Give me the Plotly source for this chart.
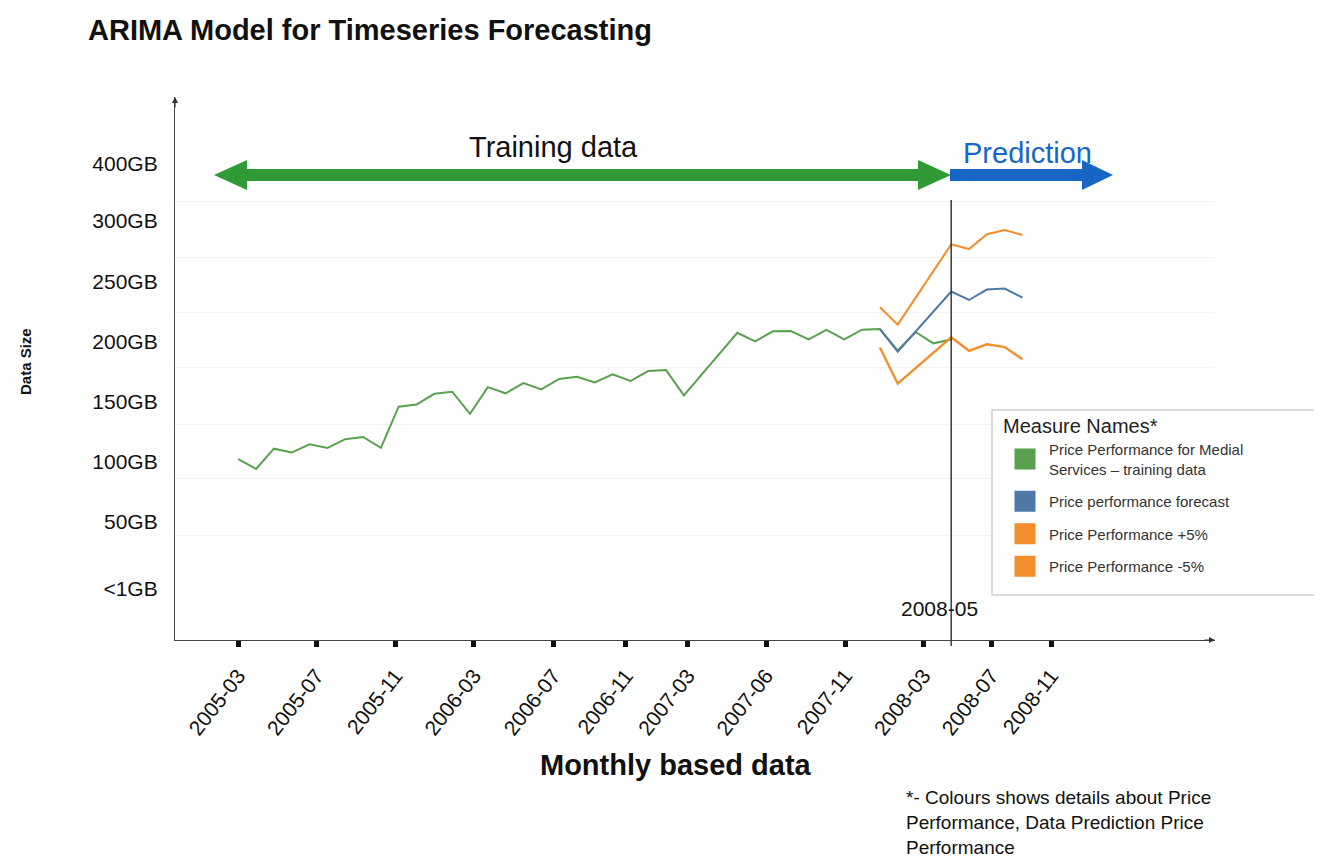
import plotly.graph_objects as go

# ---------------- data ----------------
train_idx = list(range(0, 26)) + list(range(28, 41))
train_vals = [102.3, 94.0, 110.9, 107.7, 114.6, 111.5, 118.8, 120.6, 111.6, 145.8,
              147.6, 156.5, 158.2, 139.8, 162.0, 156.9, 165.4, 160.2, 168.8, 170.7,
              165.9, 172.7, 167.1, 175.4, 176.2, 155.2,
              207.2, 200.1, 208.4, 208.6, 201.7, 209.5, 201.7, 209.7, 210.3, 192.4,
              207.8, 198.4, 201.5]

fc_idx = [36, 37, 40, 41, 42, 43, 44]
fc_vals = [210.3, 191.4, 241.4, 234.4, 243.1, 243.9, 236.3]
up_vals = [228.3, 213.9, 280.6, 276.7, 289.0, 292.5, 288.4]
low_vals = [195.0, 164.9, 203.4, 192.2, 197.6, 195.3, 185.1]

x_tick_labels = ["2005-03", "2005-07", "2005-11", "2006-03", "2006-07", "2006-11",
                 "2007-03", "2007-06", "2007-11", "2008-03", "2008-07", "2008-11"]
x_tick_pos = [0.0, 4.39, 8.82, 13.22, 17.67, 21.75, 25.22, 29.61, 34.05, 38.44, 42.24, 45.61]

y_tick_labels = ["<1GB", "50GB", "100GB", "150GB", "200GB", "250GB", "300GB", "400GB"]
y_tick_pos = [-5, 50, 100, 150, 200, 250, 300, 348]

series_names = ["Price Performance for Medial<br>Services – training data",
                "Price performance forecast",
                "Price Performance +5%",
                "Price Performance -5%"]
GREEN, BLUE, ORANGE = "#59a14f", "#4e79a7", "#f28e2b"
series_colors = [GREEN, BLUE, ORANGE, ORANGE]

note_lines = ["*- Colours shows details about Price",
              "Performance, Data Prediction Price",
              "Performance"]

# ---------------- geometry (page has an 8px body margin) ----------------
OFF = 8
W, H = 1322 - OFF, 859 - OFF
L, T = 175 - OFF, 97 - OFF
PW, PH = 1040, 543
R, B = W - L - PW, H - T - PH


def pxx(p):
    """reference pixel x -> paper x"""
    return (p - OFF - L) / PW


def pxy(p):
    """reference pixel y -> paper y"""
    return (T + PH - (p - OFF)) / PH


FONT = "Liberation Sans, Arial, Helvetica, sans-serif"

fig = go.Figure()

fig.add_trace(go.Scatter(x=train_idx, y=train_vals, mode="lines", name=series_names[0],
                         line=dict(color=GREEN, width=2), showlegend=False))
fig.add_trace(go.Scatter(x=fc_idx, y=up_vals, mode="lines", name=series_names[2],
                         line=dict(color=ORANGE, width=2), showlegend=False))
fig.add_trace(go.Scatter(x=fc_idx, y=low_vals, mode="lines", name=series_names[3],
                         line=dict(color=ORANGE, width=2.4), showlegend=False))
fig.add_trace(go.Scatter(x=fc_idx, y=fc_vals, mode="lines", name=series_names[1],
                         line=dict(color=BLUE, width=2), showlegend=False))

# legend entries with square swatches
for i, (nm, col) in enumerate(zip(series_names, series_colors)):
    fig.add_trace(go.Scatter(x=[None], y=[None], mode="markers", name=nm,
                             legendgroup=f"g{i}",
                             marker=dict(symbol="square", size=16, color=col,
                                         line=dict(color=col, width=5))))


def ppath(pts):
    return "M " + " L ".join(f"{pxx(x):.5f},{pxy(y):.5f}" for x, y in pts) + " Z"


shapes = []
# green double arrow (Training data)
shapes.append(dict(type="path", xref="paper", yref="paper",
                   path=ppath([(214, 175), (247, 160), (247, 169), (918, 169), (918, 160),
                               (951, 175), (918, 190), (918, 181), (247, 181), (247, 190)]),
                   fillcolor="#2f9a36", line=dict(width=0)))
# blue arrow (Prediction)
shapes.append(dict(type="path", xref="paper", yref="paper",
                   path=ppath([(950, 169), (1082, 169), (1082, 160), (1113, 175),
                               (1082, 190), (1082, 181), (950, 181)]),
                   fillcolor="#1766c6", line=dict(width=0)))
# vertical separator at forecast start
shapes.append(dict(type="line", xref="x", yref="paper", x0=train_idx[-1], x1=train_idx[-1],
                   y0=pxy(646), y1=pxy(200), line=dict(color="#3a3a3a", width=1.5)))
# legend frame
shapes.append(dict(type="rect", xref="paper", yref="paper",
                   x0=pxx(992), x1=pxx(1320), y0=pxy(595), y1=pxy(410),
                   line=dict(color="#d0d0d0", width=1.5), fillcolor="white", layer="above"))


def note(text, x, y, size, color="#111", **kw):
    d = dict(text=text, xref="paper", yref="paper", x=pxx(x), y=pxy(y),
             xanchor="center", yanchor="middle", showarrow=False,
             font=dict(size=size, color=color, family=FONT))
    d.update(kw)
    return d


annotations = [
    note("Training data", 553, 147, 29),
    note("Prediction", 1027, 153, 29, color="#1766c6"),
    note("2008-05", 939, 608, 21),
    note("<b>Monthly based data</b>", 676, 765, 29),
    note("<b>Data Size</b>", 25, 362, 15, textangle=-90),
    # axis arrowheads
    dict(text="", xref="paper", yref="paper", x=0, y=1, ax=0, ay=12, showarrow=True,
         arrowhead=2, arrowsize=1, arrowwidth=1.2, arrowcolor="#333"),
    dict(text="", xref="paper", yref="paper", x=1, y=0, ax=-12, ay=0, showarrow=True,
         arrowhead=2, arrowsize=1, arrowwidth=1.2, arrowcolor="#333"),
]
for k, line_txt in enumerate(note_lines):
    annotations.append(note(line_txt, 905, 797 + 25 * k, 19, xanchor="left", align="left",
                            borderpad=0))

fig.update_layout(
    width=W, height=H, autosize=False,
    margin=dict(l=L, r=R, t=T, b=B, pad=0),
    paper_bgcolor="white", plot_bgcolor="white",
    font=dict(family=FONT, color="#111"),
    title=dict(text="<b>ARIMA Model for Timeseries Forecasting</b>", xref="container",
               yref="container", x=(88 - OFF) / W, xanchor="left",
               y=1 - (30 - OFF) / H, yanchor="middle",
               font=dict(size=29, color="#111", family=FONT)),
    xaxis=dict(range=[-3.55, 54.8], showline=True, linecolor="#444", linewidth=1.2,
               tickmode="array", tickvals=x_tick_pos, ticktext=x_tick_labels,
               tickangle=-52, tickfont=dict(size=21, color="#111"),
               ticks="outside", ticklen=6, tickwidth=5, tickcolor="#111",
               ticklabelstandoff=8,
               showgrid=False, zeroline=False, fixedrange=True),
    yaxis=dict(range=[-48, 403], showline=True, linecolor="#444", linewidth=1.2,
               tickmode="array", tickvals=y_tick_pos, ticktext=y_tick_labels,
               tickfont=dict(size=21, color="#111"), ticks="", ticklabelstandoff=12,
               showgrid=False, zeroline=False,
               minor=dict(tickmode="array", tickvals=[39, 86, 131, 178, 224, 270, 316],
                          showgrid=True, gridcolor="#f2f2f2", gridwidth=1, ticks=""),
               fixedrange=True),
    legend=dict(x=pxx(1001), y=pxy(407), xanchor="left", yanchor="top",
                bgcolor="rgba(0,0,0,0)", borderwidth=0,
                traceorder="grouped", tracegroupgap=10, itemwidth=38,
                title=dict(text="Measure Names*", font=dict(size=20, color="#222")),
                font=dict(size=15, color="#333")),
    shapes=shapes,
    annotations=annotations,
    showlegend=True,
)

fig.write_html("out.html")
